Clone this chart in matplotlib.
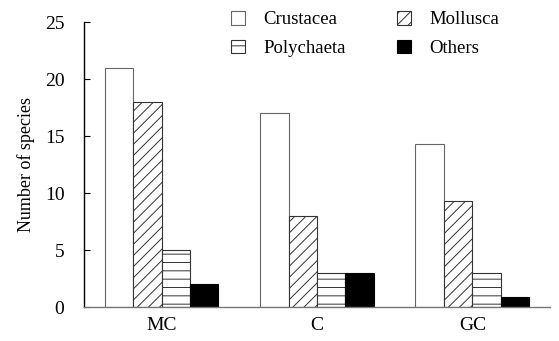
import numpy as np
import matplotlib.pyplot as plt

plt.rcParams['font.family'] = ['Liberation Serif', 'DejaVu Serif']
plt.rcParams['hatch.linewidth'] = 0.7

# data
sites = ['MC', 'C', 'GC']
groups = ['Crustacea', 'Mollusca', 'Polychaeta', 'Others']
crustacea = [21, 17, 14.3]
mollusca = [18, 8, 9.3]
polychaeta = [5, 3, 3]
others = [2, 3, 0.9]

series = [crustacea, mollusca, polychaeta, others]
hatches = ['', '///', '--', '']
faces = ['white', 'white', 'white', 'black']
edges = ['#666666', '#333333', '#333333', 'black']

fig = plt.figure(figsize=(5.59, 3.41), dpi=100)
ax = fig.add_axes([0.150, 0.0997, 0.834, 0.835])

x = np.arange(len(sites))
w = 0.183
for i, vals in enumerate(series):
    ax.bar(x + (i - 1.5) * w, vals, width=w, color=faces[i], edgecolor=edges[i],
           hatch=hatches[i], linewidth=0.8, label=groups[i])

ax.set_xlim(-0.5, 2.5)
ax.set_ylim(0, 25)
ax.set_yticks([0, 5, 10, 15, 20, 25])
ax.set_xticks(x)
ax.set_xticklabels(sites, fontsize=14)
ax.tick_params(axis='y', labelsize=14, direction='in', length=4, width=0.8, pad=14)
ax.tick_params(axis='x', length=0, pad=7)
ax.spines['top'].set_visible(False)
ax.spines['right'].set_visible(False)
ax.spines['left'].set_linewidth(1.0)
ax.spines['bottom'].set_color('#777777')
ax.spines['bottom'].set_linewidth(1.0)
ax.set_ylabel('Number of species', fontsize=13, labelpad=7)

# legend order: Crustacea, Mollusca / Polychaeta, Others
h, l = ax.get_legend_handles_labels()
order = [0, 2, 1, 3]
fig.legend([h[k] for k in order], [l[k] for k in order], ncol=2, frameon=False,
           loc='upper left', bbox_to_anchor=(0.413, 0.968), fontsize=13.5,
           borderpad=0, borderaxespad=0,
           handlelength=0.75, handleheight=0.75, handletextpad=1.0,
           columnspacing=2.7, labelspacing=0.6)

fig.savefig('out.png', dpi=100)
